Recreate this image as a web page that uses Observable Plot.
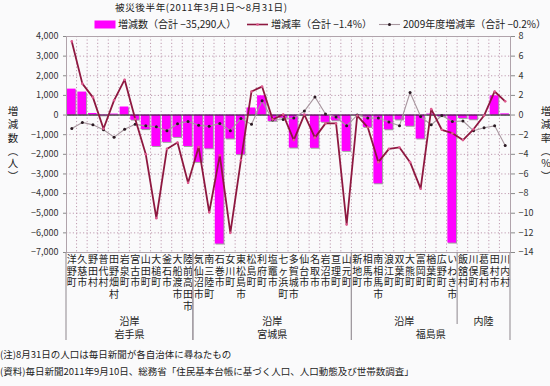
<!DOCTYPE html>
<html><head><meta charset="utf-8">
<script src="https://cdn.jsdelivr.net/npm/d3@7"></script>
<script src="https://cdn.jsdelivr.net/npm/@observablehq/plot@0.6"></script>
<style>
body{margin:0;background:#fafafb;}
#chart{width:550px;height:386px;}
svg{display:block;}
</style></head><body><div id="chart"></div>
<script>
const municipalities = ["洋野町","久慈市","野田村","普代村","田野畑村","岩泉町","宮古市","山田町","大槌町","釜石市","大船渡市","陸前高田市",
  "気仙沼市","南三陸町","石巻市","女川町","東松島市","松島町","利府町","塩竈市","七ヶ浜町","多賀城市","仙台市","名取市","岩沼市","亘理町","山元町",
  "新地町","相馬市","南相馬市","浪江町","双葉町","大熊町","富岡町","楢葉町","広野町","いわき市",
  "飯舘村","川俣町","葛尾村","田村市","川内村"];
// 増減数 (人)
const changes = [1320,1170,80,-40,50,410,-260,-740,-1600,-1390,-1140,-1600,
  -2410,-1720,-6570,-1220,-2020,360,980,-320,-150,-1680,30,-1690,-370,-290,-1850,
  -20,-630,-3500,-750,-250,-570,-1220,50,-80,-6520,
  -170,-240,-10,980,60];
// 増減率 (%)
const rates = [7.5,3.2,1.8,-1.4,1.5,3.6,-0.4,-4.0,-10.5,-3.45,-2.8,-6.9,
  -3.25,-9.9,-4.1,-12.0,-4.6,2.4,2.9,-0.45,0.05,-2.55,0.05,-2.3,-0.85,-0.85,-11.15,
  -0.05,-1.25,-4.8,-3.45,-3.3,-4.8,-7.5,0.6,-1.5,-1.85,
  -2.55,-1.45,-0.05,2.4,1.4];
// 2009年度増減率 (%)
const rates2009 = [-1.36,-0.75,-1.0,-1.5,-2.25,-1.45,-0.95,-1.1,-1.2,-1.6,-0.88,-0.65,
  -1.05,-1.15,-0.85,-1.6,-0.35,-0.95,1.45,-0.5,-0.45,-0.3,0.4,1.85,0.1,-0.2,-1.1,
  0.0,-0.3,-0.3,-0.7,-1.1,2.3,-0.15,-1.0,-0.05,-0.65,
  -0.6,-1.6,-1.3,-1.1,-3.1];
const leftTicks = [4000,3000,2000,1000,0,-1000,-2000,-3000,-4000,-5000,-6000,-7000];
const rightTicks = [8,6,4,2,0,-2,-4,-6,-8,-10,-12,-14];
const groups = [
  {zone:"沿岸", pref:"岩手県", first:"洋野町", last:"陸前高田市"},
  {zone:"沿岸", pref:"宮城県", first:"気仙沼市", last:"山元町"},
  {zone:"沿岸", pref:"福島県", first:"新地町", last:"いわき市"},
  {zone:"内陸", pref:"福島県", first:"飯舘村", last:"川内村"}
];
const titleText = "被災後半年(2011年3月1日〜8月31日)";
const legendItems = ["増減数（合計 −35,290人）","増減率（合計 −1.4%）","2009年度増減率（合計 −0.2%）"];
const notes = ["(注)8月31日の人口は毎日新聞が各自治体に尋ねたもの",
  "(資料)毎日新聞2011年9月10日、総務省「住民基本台帳に基づく人口、人口動態及び世帯数調査」"];
const leftTitle = ["増","減","数","︵","人","︶"];
const rightTitle = ["増","減","率","︵","%","︶"];

const RATIO = 500; // 1% on right axis = 500 people on left axis
const rows = municipalities.map((name,i)=>({name, change:changes[i], rate:rates[i]*RATIO, rate09:rates2009[i]*RATIO}));
const minus = v => v < 0 ? "−" + d3.format(",")(-v) : d3.format(",")(v);
const FONT = "'Noto Sans CJK JP','Noto Sans',sans-serif";
const MAGENTA = "#ff00ff", RED = "#8e1840", GRAY = "#a8979f", GRID = "#bf9bb0";

const chart = Plot.plot({
  width: 550, height: 386,
  marginLeft: 66, marginRight: 40, marginTop: 36, marginBottom: 134,
  style: {background:"transparent", fontFamily: FONT, fontSize:"9px", color:"#333"},
  x: {domain: municipalities, padding: 0, round: false, axis: null},
  y: {domain: [-7000, 4000], axis: null},
  marks: [
    Plot.gridY(leftTicks, {stroke: GRID, strokeOpacity: 1, strokeDasharray: "1.2,2.2"}),
    Plot.barY(rows, {x:"name", y:"change", fill:"#a0a0a0", insetLeft:1.6, insetRight:0.2, dy:1}),
    Plot.barY(rows, {x:"name", y:"change", fill: MAGENTA, insetLeft:0.8, insetRight:1.1}),
    Plot.ruleY([0], {stroke:"#222", strokeWidth:1}),
    Plot.line(rows, {x:"name", y:"rate09", stroke: GRAY, strokeWidth:1.1}),
    Plot.dot(rows, {x:"name", y:"rate09", r:1.5, fill:"#2a1a22"}),
    Plot.line(rows, {x:"name", y:"rate", stroke: RED, strokeWidth:1.8}),
    Plot.dot(rows, {x:"name", y:"rate", r:1.3, fill:"#e05a90"}),
    Plot.frame({stroke:"#b0a3ab"}),
    Plot.axisY(leftTicks, {anchor:"left", tickFormat: minus, tickSize:3, tickPadding:5, stroke:"#8a8a8a", fontSize:9, fill:"#333"}),
    Plot.axisY(rightTicks.map(t=>t*RATIO), {anchor:"right", tickFormat: d => minus(d/RATIO), tickSize:4, tickPadding:4, stroke:"#8a8a8a", fontSize:9, fill:"#333"}),
    Plot.text(rows, {x:"name", text: d => [...d.name].join("\n"), frameAnchor:"bottom", lineAnchor:"top", dy:2.5, fontSize:10, lineHeight:1.16, fill:"#222"})
  ]
});
document.getElementById("chart").appendChild(chart);

const svg = d3.select(chart);
const xs = chart.scale("x");
const ys = chart.scale("y");
const bw = xs.bandwidth;
const yTop = ys.apply(4000), yBot = ys.apply(-7000);

function addText(x, y, str, size, anchor) {
  return svg.append("text").attr("x", x).attr("y", y).attr("dy","0.35em")
    .attr("text-anchor", anchor).attr("font-family", FONT).attr("font-size", size)
    .attr("fill", "#222").text(str);
}

// vertical dotted gridlines at category boundaries (below bars)
const firstBar = chart.querySelector('[aria-label="bar"]');
const vg = document.createElementNS("http://www.w3.org/2000/svg","g");
chart.insertBefore(vg, firstBar);
d3.select(vg).selectAll("line").data(municipalities.slice(1)).join("line")
  .attr("x1", d => xs.apply(d)).attr("x2", d => xs.apply(d))
  .attr("y1", yTop).attr("y2", yBot)
  .attr("stroke", GRID).attr("stroke-dasharray","1.2,2.2");

// group separators and labels
const sepColor = "#a09aa0";
groups.forEach(g => {
  const x0 = xs.apply(g.first), x1 = xs.apply(g.last) + bw;
  addText((x0+x1)/2, 321, g.zone, 10, "middle");
});
const prefs = d3.groups(groups, g => g.pref);
prefs.forEach(([pref, gs]) => {
  const x0 = xs.apply(gs[0].first), x1 = xs.apply(gs[gs.length-1].last) + bw;
  addText((x0+x1)/2, 334, pref, 10, "middle");
  [x0, x1].forEach(x => svg.append("line").attr("x1",x).attr("x2",x).attr("y1",yBot).attr("y2",340)
    .attr("stroke",sepColor).attr("stroke-width",1.2));
  gs.slice(1).forEach(g => {
    const x = xs.apply(g.first);
    svg.append("line").attr("x1",x).attr("x2",x).attr("y1",yBot).attr("y2",324)
      .attr("stroke",sepColor).attr("stroke-width",1.2);
  });
});

// title
addText(115, 7.5, titleText, 9.6, "start").attr("textLength", 172).attr("lengthAdjust", "spacing");

// legend
const ly = 24.5;
svg.append("rect").attr("x",94.5).attr("y",20.5).attr("width",21).attr("height",8).attr("fill",MAGENTA);
addText(118, ly, legendItems[0], 10, "start");
svg.append("line").attr("x1",247).attr("x2",268).attr("y1",ly).attr("y2",ly).attr("stroke",RED).attr("stroke-width",1.6);
svg.append("circle").attr("cx",257.5).attr("cy",ly).attr("r",1.3).attr("fill","#e05a90");
addText(271, ly, legendItems[1], 10, "start");
svg.append("line").attr("x1",379).attr("x2",400).attr("y1",ly).attr("y2",ly).attr("stroke",GRAY).attr("stroke-width",1.1);
svg.append("circle").attr("cx",389.5).attr("cy",ly).attr("r",1.5).attr("fill","#2a1a22");
addText(403, ly, legendItems[2], 10, "start");

// axis titles (vertical)
const yPos = [111,124.5,138,151,163.5,176];
leftTitle.forEach((c,i) => addText(13, yPos[i], c, 10.5, "middle"));
rightTitle.forEach((c,i) => addText(546, yPos[i], c, 10.5, "middle"));

// notes
notes.forEach((t,i) => addText(0, 355 + i*17, t, 9.5, "start"));
</script>
</body></html>
